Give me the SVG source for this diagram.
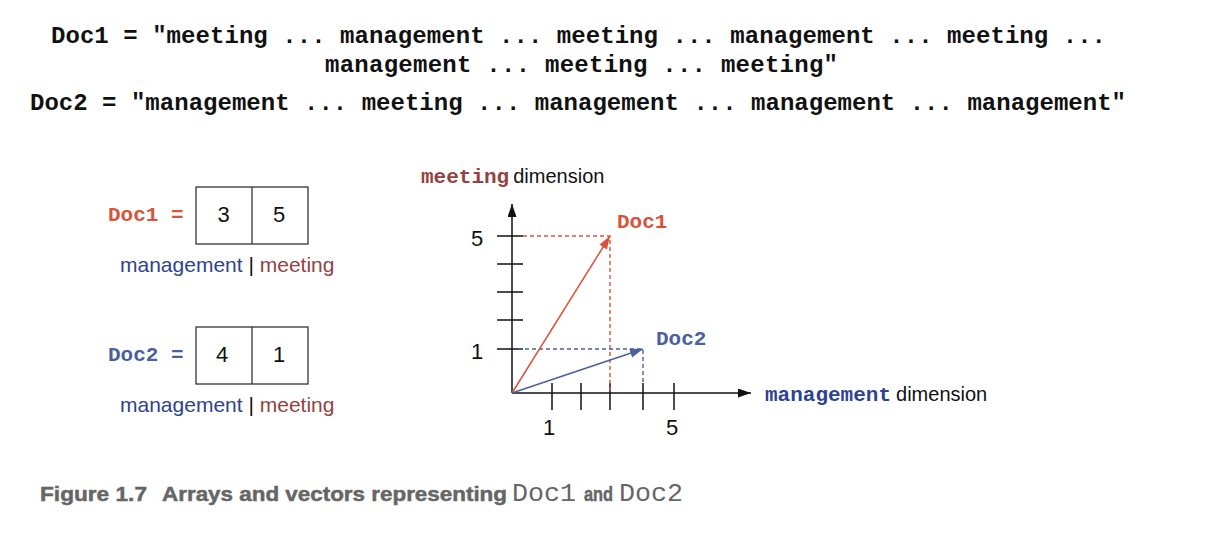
<svg xmlns="http://www.w3.org/2000/svg" width="1226" height="558" viewBox="0 0 1226 558">
<defs>
<style>
.mono{font-family:"Liberation Mono","Courier New",monospace;font-weight:bold}
.sans{font-family:"Liberation Sans",Arial,sans-serif}
.red{fill:#D9533A}
.blue{fill:#4A5FA0}
.mgmt{fill:#2E4390}
.meet{fill:#94433F}
.box{fill:#fff;stroke:#333;stroke-width:1.3}
.axis{stroke:#111;stroke-width:1.5;fill:none}
.cap{fill:#666}
.capsans{font-family:"Liberation Sans",Arial,sans-serif;font-weight:bold;font-size:21px;stroke:#666;stroke-width:0.5}
.capmono{font-family:"Liberation Mono","Courier New",monospace;font-size:25px}
</style>
<marker id="ahBlack" markerWidth="14" markerHeight="10" refX="13" refY="4.5" orient="auto" markerUnits="userSpaceOnUse"><path d="M0,0 L13,4.5 L0,9 z" fill="#111"/></marker>
<marker id="ahRed" markerWidth="14" markerHeight="10" refX="13" refY="4.5" orient="auto" markerUnits="userSpaceOnUse"><path d="M0,0 L13,4.5 L0,9 z" fill="#D9533A"/></marker>
<marker id="ahBlue" markerWidth="14" markerHeight="10" refX="13" refY="4.5" orient="auto" markerUnits="userSpaceOnUse"><path d="M0,0 L13,4.5 L0,9 z" fill="#4A5FA0"/></marker>
</defs>
<rect width="1226" height="558" fill="#fff"/>

<g id="docs-text" class="mono" font-size="24" fill="#111">
<text x="51" y="43" textLength="1055" lengthAdjust="spacing">Doc1 = "meeting ... management ... meeting ... management ... meeting ...</text>
<text x="325" y="72" textLength="513" lengthAdjust="spacing">management ... meeting ... meeting"</text>
<text x="30" y="110" textLength="1096" lengthAdjust="spacing">Doc2 = "management ... meeting ... management ... management ... management"</text>
</g>

<g id="doc1-array">
<text class="mono red" x="108" y="221" font-size="21">Doc1 =</text>
<rect class="box" x="196" y="187" width="112" height="57"/>
<line x1="252" y1="187" x2="252" y2="244" stroke="#333" stroke-width="1.3"/>
<text class="sans" x="223.5" y="222" font-size="22" text-anchor="middle" fill="#111">3</text>
<text class="sans" x="279" y="222" font-size="22" text-anchor="middle" fill="#111">5</text>
<text class="sans" x="120" y="272" font-size="21"><tspan class="mgmt">management</tspan><tspan fill="#111"> | </tspan><tspan class="meet">meeting</tspan></text>
</g>

<g id="doc2-array">
<text class="mono blue" x="108" y="361" font-size="21">Doc2 =</text>
<rect class="box" x="196" y="327" width="112" height="57"/>
<line x1="252" y1="327" x2="252" y2="384" stroke="#333" stroke-width="1.3"/>
<text class="sans" x="222" y="362" font-size="22" text-anchor="middle" fill="#111">4</text>
<text class="sans" x="279" y="362" font-size="22" text-anchor="middle" fill="#111">1</text>
<text class="sans" x="120" y="412" font-size="21"><tspan class="mgmt">management</tspan><tspan fill="#111"> | </tspan><tspan class="meet">meeting</tspan></text>
</g>

<g id="axes">
<line class="axis" x1="512" y1="393" x2="512" y2="204" marker-end="url(#ahBlack)"/>
<line class="axis" x1="512" y1="393" x2="751" y2="393" marker-end="url(#ahBlack)"/>
<g class="axis">
<line x1="497" y1="236" x2="523" y2="236"/>
<line x1="497" y1="264" x2="523" y2="264"/>
<line x1="497" y1="292" x2="523" y2="292"/>
<line x1="497" y1="320" x2="523" y2="320"/>
<line x1="497" y1="349" x2="523" y2="349"/>
<line x1="552" y1="383" x2="552" y2="410"/>
<line x1="581" y1="383" x2="581" y2="410"/>
<line x1="610" y1="383" x2="610" y2="410"/>
<line x1="643" y1="383" x2="643" y2="410"/>
<line x1="674" y1="383" x2="674" y2="410"/>
</g>
<text class="sans" x="477" y="246" font-size="22" text-anchor="middle" fill="#111">5</text>
<text class="sans" x="477" y="359" font-size="22" text-anchor="middle" fill="#111">1</text>
<text class="sans" x="549" y="435" font-size="22" text-anchor="middle" fill="#111">1</text>
<text class="sans" x="672" y="435" font-size="22" text-anchor="middle" fill="#111">5</text>
<text x="421" y="183" font-size="21"><tspan class="mono meet">meeting</tspan><tspan class="sans" fill="#111" font-size="20" dx="4">dimension</tspan></text>
<text x="765" y="401" font-size="21"><tspan class="mono mgmt">management</tspan><tspan class="sans" fill="#111" font-size="20" dx="5">dimension</tspan></text>
</g>

<g id="connectors">
<g fill="none" stroke-width="1.4" stroke-dasharray="4,3">
<path d="M523,236 H610 V393" stroke="#D9533A"/>
<path d="M518,349 H643 V383" stroke="#4A5FA0"/>
</g>
<line x1="512" y1="393" x2="610" y2="236" stroke="#D9533A" stroke-width="1.5" marker-end="url(#ahRed)"/>
<line x1="512" y1="393" x2="643" y2="349" stroke="#4A5FA0" stroke-width="1.5" marker-end="url(#ahBlue)"/>
</g>

<g id="doc1-vector-label">
<text class="mono red" x="617" y="228" font-size="21">Doc1</text>
</g>
<g id="doc2-vector-label">
<text class="mono blue" x="656" y="345" font-size="21">Doc2</text>
</g>

<g id="caption" class="cap">
<text class="capsans" x="40" y="501" textLength="107" lengthAdjust="spacingAndGlyphs">Figure 1.7</text>
<text class="capsans" x="162" y="501" textLength="345" lengthAdjust="spacingAndGlyphs">Arrays and vectors representing</text>
<text class="capmono" x="512" y="501" textLength="64" lengthAdjust="spacingAndGlyphs">Doc1</text>
<text class="capsans" x="584" y="501" textLength="29" lengthAdjust="spacingAndGlyphs">and</text>
<text class="capmono" x="619" y="501" textLength="64" lengthAdjust="spacingAndGlyphs">Doc2</text>
</g>
</svg>
